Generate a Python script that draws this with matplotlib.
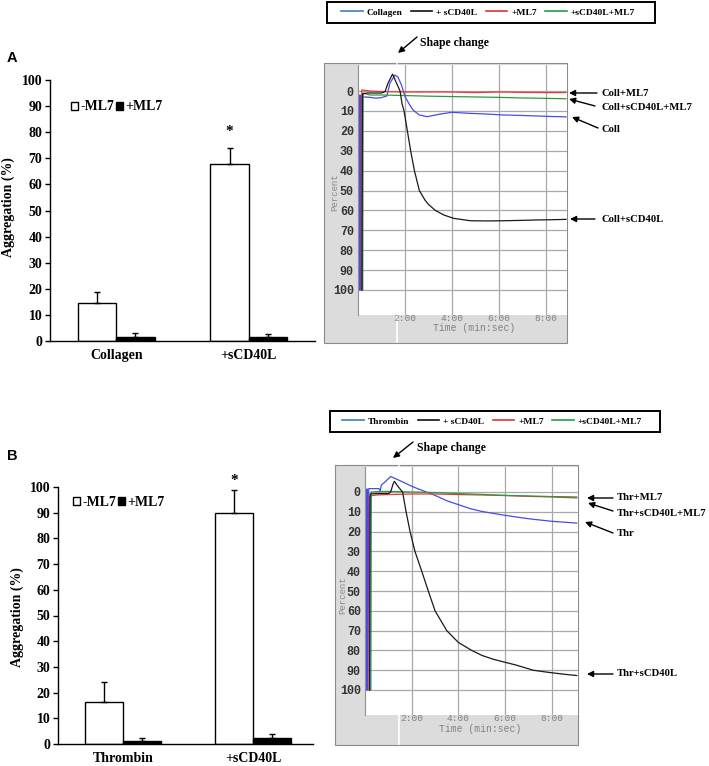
import numpy as np
import matplotlib
matplotlib.use('Agg')
import matplotlib.pyplot as plt
from matplotlib.patches import Rectangle, FancyArrowPatch
from matplotlib.lines import Line2D

W, H = 709, 766
fig = plt.figure(figsize=(W / 100, H / 100), dpi=100)

SERIF = 'Liberation Serif'
MONO = 'Liberation Mono'
SANS = 'Liberation Sans'

# ---------------- bar chart data ----------------
groups_A = ['Collagen', '+sCD40L']
minus_ml7_A = [14.5, 68.0]
minus_ml7_err_A = [4.3, 5.8]
plus_ml7_A = [1.5, 1.5]
plus_ml7_err_A = [1.7, 1.2]

groups_B = ['Thrombin', '+sCD40L']
minus_ml7_B = [16.5, 90.0]
minus_ml7_err_B = [7.5, 9.0]
plus_ml7_B = [1.3, 2.3]
plus_ml7_err_B = [1.2, 1.5]

bar_yticks = list(range(0, 101, 10))

# ---------------- aggregation traces (time in min, percent) ----------------
# Panel A : collagen
coll_t = [0.02, 0.04, 0.07, 0.09, 0.12, 0.14, 0.3, 0.5, 0.78, 1.0, 1.23, 1.36, 1.57, 1.7, 1.85, 2.0,
          2.2, 2.34, 2.6, 2.94, 3.2, 3.5, 4.0, 4.7, 5.5, 6.1, 7.0, 7.5, 8.2, 8.85]
coll_y = [100, 2, 100, 2, 100, 3, 3, 3.2, 3.6, 3.3, 2.5, -4, -8, -7, -3, 2.8,
          7, 9.5, 12, 12.9, 12.3, 11.6, 10.7, 11.2, 11.6, 12, 12.3, 12.5, 12.8, 13]
coll_cd_t = [0.17, 0.19, 0.4, 0.7, 1.0, 1.15, 1.28, 1.47, 1.6, 1.79, 1.87, 1.96, 2.1, 2.24, 2.4,
             2.61, 2.86, 3.0, 3.29, 3.65, 4.07, 4.79, 5.5, 6.2, 7.0, 7.6, 8.2, 8.85]
coll_cd_y = [100, 1.5, 1, 1, 1, 0.3, -4, -8.5, -5, 0, 6.2, 10, 20, 30, 40,
             50, 55, 57, 60, 62.3, 64, 65.2, 65.3, 65.2, 65, 64.8, 64.7, 64.5]
coll_ml7_t = [0.15, 0.16, 0.5, 1.0, 2.0, 3.0, 4.0, 5.0, 6.0, 7.0, 8.0, 8.85]
coll_ml7_y = [100, -0.5, 0, 0.3, 0.5, 0.5, 0.5, 0.8, 0.5, 0.7, 0.8, 0.8]
coll_cd_ml7_t = [0.2, 0.22, 0.5, 1.0, 2.0, 3.0, 4.0, 5.0, 6.0, 7.0, 8.0, 8.85]
coll_cd_ml7_y = [100, 1, 2, 2, 2.3, 2.6, 2.8, 3.0, 3.2, 3.5, 3.7, 3.9]

# Panel B : thrombin
thr_t = [0.03, 0.05, 0.08, 0.1, 0.13, 0.16, 0.3, 0.6, 0.65, 0.7, 0.85, 1.1, 1.5, 2.0, 2.36, 3.0,
         3.5, 4.0, 4.5, 5.0, 6.0, 7.0, 8.0, 9.07]
thr_y = [100, -1.5, 100, -1.5, 100, -1.7, -1.7, -1.7, -0.5, -3.5, -5, -7.8, -5.7, -2.9, -1.2, 1.7,
         4.4, 6.4, 8.4, 9.8, 11.8, 13.5, 14.8, 15.7]
thr_cd_t = [0.2, 0.22, 0.5, 1.0, 1.1, 1.2, 1.26, 1.4, 1.61, 1.76, 1.93, 2.14, 2.43, 2.71, 3.0,
            3.5, 4.0, 4.57, 5.0, 5.5, 6.0, 6.5, 7.2, 7.8, 8.5, 9.07]
thr_cd_y = [100, 1, 0.8, 0.8, 0, -4, -5.4, -3, 0, 10, 20, 30, 40, 50, 60,
            70, 76, 80, 82.5, 84.5, 86, 87.5, 90, 91, 92, 92.7]
thr_ml7_t = [0.18, 0.2, 0.5, 1.0, 2.0, 3.0, 4.0, 5.0, 6.0, 7.0, 8.0, 9.07]
thr_ml7_y = [100, 2, 1.5, 1.3, 1.0, 1.0, 1.3, 1.5, 1.8, 2.2, 2.5, 3.0]
thr_cd_ml7_t = [0.25, 0.27, 0.5, 1.0, 2.0, 3.0, 4.0, 5.0, 6.0, 7.0, 8.0, 9.07]
thr_cd_ml7_y = [100, 0, -0.2, -0.3, 0, 0.3, 0.8, 1.2, 1.7, 2.0, 2.3, 2.5]

trace_xticks = [2, 4, 6, 8]
trace_xticklabels = ['2:00', '4:00', '6:00', '8:00']
trace_yticks = list(range(0, 101, 10))

legend_A = ['Collagen', '+ sCD40L', '+ML7', '+sCD40L+ML7']
legend_B = ['Thrombin', '+ sCD40L', '+ML7', '+sCD40L+ML7']
ann_A = ['Coll+ML7', 'Coll+sCD40L+ML7', 'Coll', 'Coll+sCD40L']
ann_B = ['Thr+ML7', 'Thr+sCD40L+ML7', 'Thr', 'Thr+sCD40L']

C_BLUE = '#4a4ae6'
C_BLACK = '#1a1a1a'
C_RED = '#e23a3a'
C_GREEN = '#2a9a40'
LEG_COLORS = ['#3c7fc0', '#111111', '#e03030', '#20a048']


def ax_px(l, t, r, b):
    return fig.add_axes([l / W, 1 - b / H, (r - l) / W, (b - t) / H])


def fx(x):
    return x / W


def fy(y):
    return 1 - y / H


def bar_panel(rect, groups, v1, e1, v2, e2, xr, leg_xy, ylab_xy, letter, letter_xy, star_gap):
    ax = ax_px(*rect)
    x = np.arange(len(groups))
    w = 0.29
    b1 = ax.bar(x - w / 2, v1, w, color='white', edgecolor='black', lw=1)
    b2 = ax.bar(x + w / 2, v2, w, color='black', edgecolor='black', lw=1)
    ax.errorbar(x - w / 2, v1, yerr=[np.zeros(len(v1)), e1], fmt='none', ecolor='black',
                elinewidth=1, capsize=2.5, capthick=1)
    ax.errorbar(x + w / 2, v2, yerr=[np.zeros(len(v2)), e2], fmt='none', ecolor='black',
                elinewidth=1, capsize=2.5, capthick=1)
    ax.text(x[1] - w / 2, v1[1] + e1[1] + star_gap, '*', ha='center', va='bottom',
            fontsize=11, fontweight='bold', family=SERIF, clip_on=False)
    ax.set_xlim(-0.5, xr)
    ax.set_ylim(0, 100)
    ax.set_yticks(bar_yticks)
    ax.set_xticks(x)
    ax.set_xticklabels(groups)
    for s in ['top', 'right']:
        ax.spines[s].set_visible(False)
    for s in ['left', 'bottom']:
        ax.spines[s].set_linewidth(1)
    ax.tick_params(axis='y', direction='out', length=3.5, width=1, pad=2)
    ax.tick_params(axis='x', length=0, pad=6)
    for lab in ax.get_xticklabels() + ax.get_yticklabels():
        lab.set_fontfamily(SERIF)
        lab.set_fontweight('bold')
        lab.set_fontsize(10)
    fig.text(fx(ylab_xy[0]), fy(ylab_xy[1]), 'Aggregation (%)', rotation=90, ha='center',
             va='center', family=SERIF, fontweight='bold', fontsize=10)
    ax.legend([b1, b2], ['-ML7', '+ML7'], loc='center left',
              bbox_to_anchor=(fx(leg_xy[0]), fy(leg_xy[1])), bbox_transform=fig.transFigure,
              ncol=2, frameon=False, handlelength=0.5, handleheight=0.5,
              handletextpad=0.15, columnspacing=0.15, borderpad=0, borderaxespad=0,
              prop={'family': SERIF, 'weight': 'bold', 'size': 10})
    fig.text(fx(letter_xy[0]), fy(letter_xy[1]), letter, ha='center', va='center',
             family=SANS, fontweight='bold', fontsize=10.5)
    return ax


bar_panel((50, 80, 315, 341), groups_A, minus_ml7_A, minus_ml7_err_A, plus_ml7_A, plus_ml7_err_A,
          1.5, (71, 107), (8, 207), 'A', (12, 58), 4.0)
bar_panel((58, 487, 313, 744), groups_B, minus_ml7_B, minus_ml7_err_B, plus_ml7_B, plus_ml7_err_B,
          1.46, (73, 502), (17, 617), 'B', (12, 456), 1.0)


def arrow(tail, head):
    fig.add_artist(FancyArrowPatch(
        (fx(tail[0]), fy(tail[1])), (fx(head[0]), fy(head[1])), transform=fig.transFigure,
        arrowstyle='-|>', mutation_scale=9, lw=1, color='black', shrinkA=0, shrinkB=0))


def trace_panel(frame, prect, x0px, px_per_min, y0px, px_per_pct, traces, leg_labels, leg_box,
                shape_txt, shape_tail, shape_head, anns, ann_x, percent_xy, time_xy, white_x):
    fl, ft, fr, fb = frame
    fig.add_artist(Rectangle((fx(fl), fy(fb)), (fr - fl) / W, (fb - ft) / H, transform=fig.transFigure,
                             facecolor='#dcdcdc', edgecolor='#8a8a8a', lw=0.8, zorder=-3))
    fig.add_artist(Line2D([fx(white_x), fx(white_x)], [fy(fb - 1), fy(ft + 1)],
                          transform=fig.transFigure, color='white', lw=1.2, zorder=-2))
    l, t, r, b = prect
    ax = ax_px(l, t, r, b)
    ax.set_facecolor('white')
    ax.set_xlim((l - x0px) / px_per_min, (r - x0px) / px_per_min)
    ax.set_ylim((b - y0px) / px_per_pct, (t - y0px) / px_per_pct)
    for (tt, yy, c) in traces:
        ax.plot(tt, yy, color=c, lw=0.9)
    ax.set_xticks(trace_xticks)
    ax.set_xticklabels(trace_xticklabels)
    ax.set_yticks(trace_yticks)
    ax.grid(True, color='#a8a8a8', lw=0.9)
    ax.set_axisbelow(True)
    for s in ['top', 'right', 'bottom']:
        ax.spines[s].set_visible(False)
    ax.spines['left'].set_color('#909090')
    ax.tick_params(axis='both', length=0)
    ax.tick_params(axis='y', pad=3)
    ax.tick_params(axis='x', pad=-0.5)
    for lab in ax.get_yticklabels():
        lab.set_fontfamily(MONO)
        lab.set_fontweight('bold')
        lab.set_fontsize(8.5)
        lab.set_color('#333333')
    for lab in ax.get_xticklabels():
        lab.set_fontfamily(MONO)
        lab.set_fontsize(6.8)
        lab.set_color('#808080')
    fig.text(fx(percent_xy[0]), fy(percent_xy[1]), 'Percent', rotation=90, ha='center', va='center',
             family=MONO, fontsize=6.5, color='#8a8a8a')
    fig.text(fx(time_xy[0]), fy(time_xy[1]), 'Time (min:sec)', ha='center', va='center',
             family=MONO, fontsize=7, color='#808080')
    # legend box
    bl, bt, br, bb = leg_box
    fig.add_artist(Rectangle((fx(bl), fy(bb)), (br - bl) / W, (bb - bt) / H, transform=fig.transFigure,
                             facecolor='white', edgecolor='black', lw=1.4, zorder=2))
    handles = [Line2D([], [], color=c, lw=1.2) for c in LEG_COLORS]
    leg = fig.legend(handles, leg_labels, loc='center',
                     bbox_to_anchor=(fx((bl + br) / 2 - 3), fy((bt + bb) / 2)),
                     ncol=4, frameon=False, handlelength=2.3, handletextpad=0.4, columnspacing=0.9,
                     borderpad=0, borderaxespad=0,
                     prop={'family': SERIF, 'weight': 'bold', 'size': 6.8})
    leg.set_zorder(3)
    fig.text(fx(shape_txt[0]), fy(shape_txt[1]), 'Shape change', ha='left', va='center',
             family=SERIF, fontweight='bold', fontsize=8.5)
    arrow(shape_tail, shape_head)
    for (txt, ty, tail, head) in anns:
        fig.text(fx(ann_x), fy(ty), txt, ha='left', va='center', family=SERIF,
                 fontweight='bold', fontsize=7.7)
        arrow(tail, head)
    return ax


traces_A = [(coll_t, coll_y, C_BLUE), (coll_ml7_t, coll_ml7_y, C_RED),
            (coll_cd_ml7_t, coll_cd_ml7_y, C_GREEN), (coll_cd_t, coll_cd_y, C_BLACK)]
anns_A = [(ann_A[0], 93, (597, 93), (569, 93)),
          (ann_A[1], 108, (595, 106), (569, 99)),
          (ann_A[2], 129, (598, 128), (572, 117)),
          (ann_A[3], 219, (595, 219), (570, 219))]
trace_panel((324, 63, 567, 343), (358, 65, 567, 315), 358, 23.5, 91, 1.99, traces_A, legend_A,
            (327, 2, 655, 23), (420, 43), (417, 37), (398, 53), anns_A, 601, (335, 192), (474, 328),
            397)

traces_B = [(thr_t, thr_y, C_BLUE), (thr_ml7_t, thr_ml7_y, C_RED),
            (thr_cd_ml7_t, thr_cd_ml7_y, C_GREEN), (thr_cd_t, thr_cd_y, C_BLACK)]
anns_B = [(ann_B[0], 497, (613, 498), (587, 498)),
          (ann_B[1], 513, (613, 511), (588, 503)),
          (ann_B[2], 533, (613, 533), (585, 522)),
          (ann_B[3], 674, (613, 674), (587, 674))]
trace_panel((335, 465, 578, 745), (365, 467, 578, 715), 365, 23.35, 492, 1.98, traces_B, legend_B,
            (330, 411, 660, 432), (417, 448), (413, 442), (393, 458), anns_B, 617, (343, 595), (480, 729),
            399)

fig.savefig('out.png', dpi=100)
